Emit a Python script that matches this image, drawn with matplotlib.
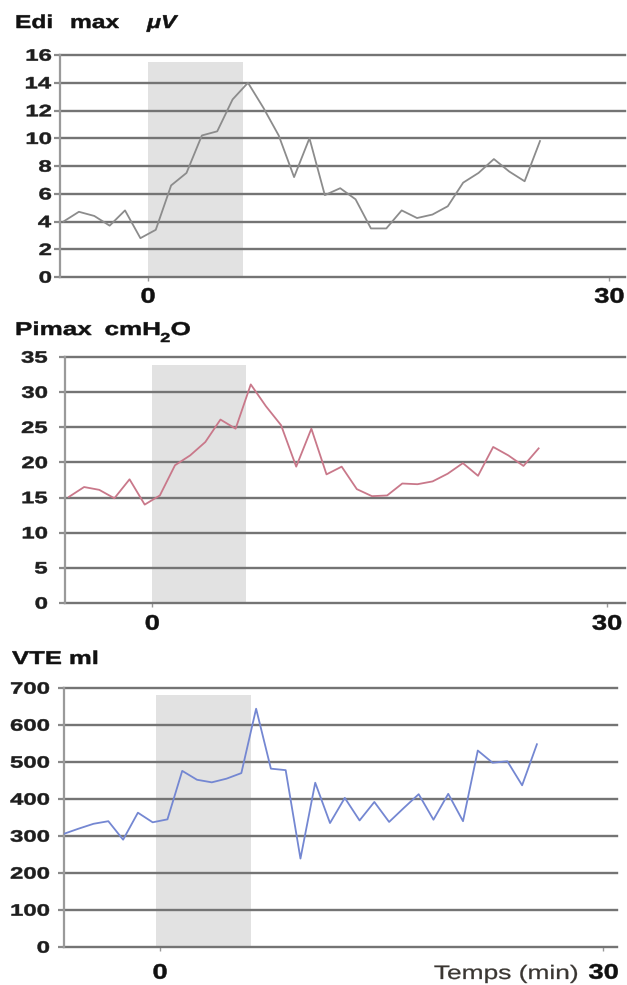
import matplotlib.pyplot as plt
from matplotlib.font_manager import FontProperties
from matplotlib.textpath import TextPath
from matplotlib.patches import PathPatch
from matplotlib.transforms import Affine2D

plt.rcParams['font.family'] = ['Liberation Sans', 'DejaVu Sans']

W, H = 627, 985

# sampling times (min) and measured values
edi_t = [-5.5, -4.5, -3.5, -2.5, -1.5, -0.5, 0.5, 1.5, 2.5, 3.5, 4.5, 5.5, 6.5, 7.5, 8.5, 9.5,
         10.5, 11.5, 12.5, 13.5, 14.5, 15.5, 16.5, 17.5, 18.5, 19.5, 20.5, 21.5, 22.5, 23.5, 24.5, 25.5]
edi_max = [4.0, 4.7, 4.4, 3.7, 4.8, 2.8, 3.4, 6.6, 7.5, 10.2, 10.5, 12.8, 14.0, 12.2, 10.2, 7.2,
           10.0, 5.9, 6.4, 5.6, 3.5, 3.5, 4.8, 4.25, 4.5, 5.1, 6.8, 7.5, 8.5, 7.6, 6.9, 9.8]

pimax_t = edi_t
pimax = [15.1, 16.5, 16.1, 14.9, 17.6, 14.0, 15.3, 19.6, 21.0, 22.9, 26.1, 24.8, 31.1, 28.0, 25.3, 19.4,
         24.8, 18.3, 19.4, 16.2, 15.2, 15.3, 17.0, 16.9, 17.3, 18.4, 19.9, 18.1, 22.2, 21.0, 19.5, 22.0]

vte_t = [-6.5, -5.5, -4.5, -3.5, -2.5, -1.5, -0.5, 0.5, 1.5, 2.5, 3.5, 4.5, 5.5, 6.5, 7.5, 8.5, 9.5,
         10.5, 11.5, 12.5, 13.5, 14.5, 15.5, 16.5, 17.5, 18.5, 19.5, 20.5, 21.5, 22.5, 23.5, 24.5, 25.5]
vte = [306, 320, 333, 340, 290, 363, 337, 345, 476, 452, 445, 455, 470, 644, 482, 478, 239,
       444, 335, 403, 342, 392, 338, 376, 413, 344, 414, 340, 531, 498, 502, 437, 548]

edi_ticks = [0, 2, 4, 6, 8, 10, 12, 14, 16]
pimax_ticks = [0, 5, 10, 15, 20, 25, 30, 35]
vte_ticks = [0, 100, 200, 300, 400, 500, 600, 700]
x_ticks = [0, 30]

BOLD = FontProperties(family='Liberation Sans', weight='bold')
BOLD_IT = FontProperties(family='Liberation Sans', weight='bold', style='italic')
REG = FontProperties(family='Liberation Sans')


def px_box(left, top, right, bottom):
    return [left / W, 1 - bottom / H, (right - left) / W, (bottom - top) / H]


def wide_text(fig, x, y, s, size, prop=BOLD, sx=1.35, ha='left', va='baseline',
              color='#111111', stroke=0.35):
    # text drawn as a path so it can be widened; x, y in display pixels (y up)
    tp = TextPath((0, 0), s, size=size, prop=prop)
    ext = tp.get_extents()
    if ha == 'right':
        dx = -ext.x1 * sx
    elif ha == 'center':
        dx = -(ext.x0 + ext.x1) / 2 * sx
    else:
        dx = 0
    if va == 'center':
        dy = -(ext.y0 + ext.y1) / 2
    elif va == 'top':
        dy = -ext.y1
    else:
        dy = 0
    tr = Affine2D().scale(sx, 1).translate(x + dx, y + dy)
    fig.add_artist(PathPatch(tp, transform=tr, facecolor=color, edgecolor=color, lw=stroke))
    return x + dx + ext.x1 * sx


def draw_panel(fig, box, t, vals, color, yticks, xlim, shade, ylab_right, xlab_top):
    ax = fig.add_axes(box)
    ax.set_xlim(xlim)
    ax.set_ylim(yticks[0], yticks[-1])
    ax.fill_between(shade[:2], 0, shade[2], color='#e2e2e2', lw=0, zorder=0)
    ax.plot(t, vals, color=color, lw=1.3, zorder=3)

    ax.set_yticks(yticks)
    ax.set_xticks(x_ticks)
    ax.tick_params(labelleft=False, labelbottom=False)
    ax.grid(axis='y', color='#747474', lw=1.7)
    for gl in ax.get_ygridlines():
        gl.set_clip_on(False)
    for side in ['top', 'right', 'bottom']:
        ax.spines[side].set_visible(False)
    ax.spines['left'].set_color('#9a9a9a')
    ax.spines['left'].set_linewidth(1.6)
    ax.tick_params(axis='y', length=4, width=1.6, color='#8a8a8a')
    ax.tick_params(axis='x', length=3, width=1.0, color='#999999')

    # tick labels placed from the data transform
    for v in yticks:
        _, ypix = ax.transData.transform((xlim[0], v))
        wide_text(fig, ylab_right, ypix, str(v), 16.5, sx=1.45, ha='right', va='center',
                  color='#1e1e1e')
    for v in x_ticks:
        xpix, _ = ax.transData.transform((v, 0))
        wide_text(fig, xpix, H - xlab_top, str(v), 21, sx=1.3, ha='center', va='top')
    return ax


fig = plt.figure(figsize=(W / 100, H / 100), dpi=100)

draw_panel(fig, px_box(60, 55, 625, 277), edi_t, edi_max, '#8c8c8c', edi_ticks,
           (-5.73, 31.03), (0, 6.2, 15.5), 51, 288)
draw_panel(fig, px_box(65, 357, 625, 603), pimax_t, pimax, '#c9788a', pimax_ticks,
           (-5.76, 31.2), (0, 6.2, 33.8), 47, 615)
draw_panel(fig, px_box(64, 688, 617, 947), vte_t, vte, '#7487d2', vte_ticks,
           (-6.5, 30.92), (-0.27, 6.14, 680), 49, 964)

# panel titles
wide_text(fig, 15, H - 28, 'Edi', 18.6, sx=1.32)
wide_text(fig, 70, H - 28, 'max', 18.6, sx=1.32)
wide_text(fig, 147, H - 28, '\u03bcV', 18.6, prop=BOLD_IT, sx=1.25)

x = wide_text(fig, 15, H - 335, 'Pimax', 18.6, sx=1.4)
x = wide_text(fig, x + 13, H - 335, 'cmH', 18.6, sx=1.4)
x = wide_text(fig, x + 1, H - 342, '2', 13, sx=1.4)
wide_text(fig, x + 1, H - 335, 'O', 18.6, sx=1.4)

x = wide_text(fig, 12, H - 664, 'VTE', 18.6, sx=1.38)
wide_text(fig, x + 8, H - 664, 'ml', 18.6, sx=1.38)

wide_text(fig, 577, H - 979, 'Temps (min)', 19.5, prop=REG, sx=1.35, ha='right',
          color='#3a3632', stroke=0.2)

fig.savefig('out.png', dpi=100)
